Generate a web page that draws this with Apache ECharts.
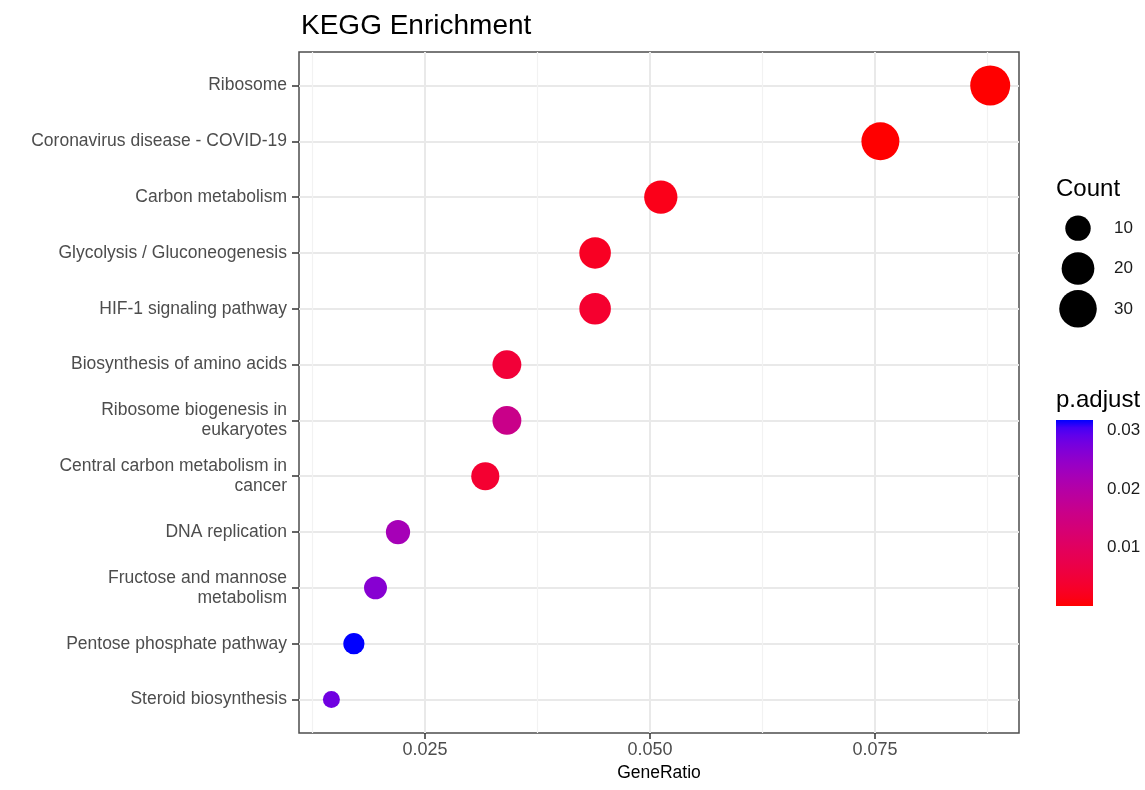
<!DOCTYPE html>
<html>
<head>
<meta charset="utf-8">
<script src="https://cdn.jsdelivr.net/npm/echarts@6/dist/echarts.min.js"></script>
<style>
  html, body { margin: 0; padding: 0; background: #ffffff; }
  #chart { width: 1145px; height: 790px; }
</style>
</head>
<body>
<div id="chart"></div>
<script>
// KEGG pathways, listed from top to bottom of the dot plot
const pathways = [
  'Ribosome',
  'Coronavirus disease - COVID-19',
  'Carbon metabolism',
  'Glycolysis / Gluconeogenesis',
  'HIF-1 signaling pathway',
  'Biosynthesis of amino acids',
  'Ribosome biogenesis in\neukaryotes',
  'Central carbon metabolism in\ncancer',
  'DNA replication',
  'Fructose and mannose\nmetabolism',
  'Pentose phosphate pathway',
  'Steroid biosynthesis'
];
const geneRatio = [0.0878, 0.0756, 0.0512, 0.0439, 0.0439, 0.0341, 0.0341, 0.0317, 0.0220, 0.0195, 0.0171, 0.0146];
const counts    = [36, 31, 21, 18, 18, 14, 14, 13, 9, 8, 7, 6];
const pAdjust   = [1e-10, 2e-5, 0.0015, 0.0025, 0.0038, 0.0048, 0.0160, 0.0040, 0.0223, 0.0260, 0.0318, 0.0280];

// axis breaks
const ratioTicks      = [0.025, 0.050, 0.075];
const ratioMinorTicks = [0.0125, 0.0375, 0.0625, 0.0875];
const countBreaks     = [10, 20, 30];
const pBreaks         = [0.01, 0.02, 0.03];

const FONT = '"Liberation Sans", Arial, Helvetica, sans-serif';

// ---- size scale: area-proportional mapping of Count to dot diameter ----
const cMin = Math.min(...counts), cMax = Math.max(...counts);
function dotSize(c) {
  const s = Math.max(0, (c - cMin) / (cMax - cMin));
  return 17 + 23 * Math.sqrt(s);
}

// ---- colour scale: red -> blue interpolated in CIE Lab ----
function toLin(c) { c /= 255; return c <= 0.04045 ? c / 12.92 : Math.pow((c + 0.055) / 1.055, 2.4); }
function toSrgb(c) {
  c = Math.max(0, Math.min(1, c));
  return Math.round(255 * (c <= 0.0031308 ? 12.92 * c : 1.055 * Math.pow(c, 1 / 2.4) - 0.055));
}
function rgbToLab(rgb) {
  const r = toLin(rgb[0]), g = toLin(rgb[1]), b = toLin(rgb[2]);
  const X = (0.4124 * r + 0.3576 * g + 0.1805 * b) / 0.95047;
  const Y = (0.2126 * r + 0.7152 * g + 0.0722 * b);
  const Z = (0.0193 * r + 0.1192 * g + 0.9505 * b) / 1.08883;
  const f = t => t > 0.008856 ? Math.cbrt(t) : 7.787 * t + 16 / 116;
  const fx = f(X), fy = f(Y), fz = f(Z);
  return [116 * fy - 16, 500 * (fx - fy), 200 * (fy - fz)];
}
function labToHex(lab) {
  const fy = (lab[0] + 16) / 116, fx = fy + lab[1] / 500, fz = fy - lab[2] / 200;
  const inv = t => t * t * t > 0.008856 ? t * t * t : (t - 16 / 116) / 7.787;
  const X = inv(fx) * 0.95047, Y = inv(fy), Z = inv(fz) * 1.08883;
  const r = 3.2406 * X - 1.5372 * Y - 0.4986 * Z;
  const g = -0.9689 * X + 1.8758 * Y + 0.0415 * Z;
  const b = 0.0557 * X - 0.2040 * Y + 1.0570 * Z;
  return '#' + [r, g, b].map(v => toSrgb(v).toString(16).padStart(2, '0')).join('');
}
const labLow = rgbToLab([255, 0, 0]), labHigh = rgbToLab([0, 0, 255]);
const palette = [];
for (let i = 0; i <= 24; i++) {
  const t = i / 24;
  palette.push(labToHex(labLow.map((v, k) => v + (labHigh[k] - v) * t)));
}

const pMax = Math.max(...pAdjust);
const rowIdx = pathways.map((_, i) => i);

const chart = echarts.init(document.getElementById('chart'), null, { renderer: 'canvas' });

const option = {
  animation: false,
  backgroundColor: '#ffffff',
  textStyle: { fontFamily: FONT },
  title: [
    { text: 'KEGG Enrichment', left: 301, top: 12, padding: 0,
      textStyle: { fontSize: 28, fontWeight: 'normal', color: '#000', fontFamily: FONT } },
    { text: 'Count', left: 1056, top: 177, padding: 0,
      textStyle: { fontSize: 24, fontWeight: 'normal', color: '#000', fontFamily: FONT } },
    { text: 'p.adjust', left: 1056, top: 388, padding: 0,
      textStyle: { fontSize: 24, fontWeight: 'normal', color: '#000', fontFamily: FONT } }
  ],
  grid: [
    { left: 299, top: 52, width: 720, height: 681, show: true,
      borderColor: '#4d4d4d', borderWidth: 1.5, backgroundColor: '#ffffff' },
    { left: 1058, top: 208, width: 40, height: 121 },
    { left: 1056, top: 420, width: 37, height: 186 }
  ],
  visualMap: {
    type: 'continuous', show: false, seriesIndex: 0, dimension: 3,
    min: 0, max: pMax, inRange: { color: palette }
  },
  xAxis: [
    { // minor gridlines
      gridIndex: 0, type: 'value', position: 'bottom', min: 0.011, max: 0.091,
      axisLine: { show: false }, axisLabel: { show: false },
      axisTick: { show: false, customValues: ratioMinorTicks },
      splitLine: { show: true, lineStyle: { color: '#f2f2f2', width: 1.2 } }
    },
    { // major axis
      gridIndex: 0, type: 'value', position: 'bottom', min: 0.011, max: 0.091,
      axisLine: { show: false },
      axisTick: { show: true, length: 6, customValues: ratioTicks, lineStyle: { color: '#333', width: 1.5 } },
      axisLabel: { customValues: ratioTicks, formatter: v => v.toFixed(3), margin: 8,
                   fontSize: 18, color: '#4d4d4d', fontFamily: FONT },
      splitLine: { show: true, lineStyle: { color: '#e9e9e9', width: 2 } },
      name: 'GeneRatio', nameLocation: 'middle', nameGap: 31,
      nameTextStyle: { fontSize: 17.5, color: '#000', fontFamily: FONT }
    },
    { gridIndex: 1, type: 'value', min: -1, max: 1, show: false },
    { gridIndex: 2, type: 'category', data: [''], show: false }
  ],
  yAxis: [
    {
      gridIndex: 0, type: 'value', inverse: true, min: -0.6, max: pathways.length - 1 + 0.6,
      axisLine: { show: false },
      axisTick: { show: true, length: 7, customValues: rowIdx, lineStyle: { color: '#333', width: 1.5 } },
      axisLabel: { customValues: rowIdx, formatter: v => pathways[Math.round(v)], margin: 12,
                   fontSize: 17.5, lineHeight: 20, color: '#4d4d4d', align: 'right', fontFamily: FONT },
      splitLine: { show: true, lineStyle: { color: '#e9e9e9', width: 2 } }
    },
    {
      gridIndex: 1, type: 'category', data: countBreaks.map(String), inverse: true, position: 'right',
      axisLine: { show: false }, axisTick: { show: false },
      axisLabel: { margin: 16, fontSize: 17, color: '#1a1a1a', fontFamily: FONT },
      splitLine: { show: false }
    },
    {
      gridIndex: 2, type: 'value', min: 0, max: pMax, position: 'right',
      axisLine: { show: false },
      axisTick: { show: true, inside: true, length: 7, customValues: pBreaks, lineStyle: { color: '#ffffff', width: 1.2 } },
      axisLabel: { customValues: pBreaks, formatter: v => v.toFixed(2), margin: 14,
                   fontSize: 17, color: '#1a1a1a', fontFamily: FONT },
      splitLine: { show: false }
    },
    {
      gridIndex: 2, type: 'value', min: 0, max: pMax, position: 'left',
      axisLine: { show: false }, axisLabel: { show: false },
      axisTick: { show: true, inside: true, length: 7, customValues: pBreaks, lineStyle: { color: '#ffffff', width: 1.2 } },
      splitLine: { show: false }
    }
  ],
  series: [
    {
      type: 'scatter', xAxisIndex: 1, yAxisIndex: 0,
      data: pathways.map((_, i) => [geneRatio[i], i, counts[i], pAdjust[i]]),
      symbolSize: d => dotSize(d[2]),
      itemStyle: { opacity: 1 },
      emphasis: { disabled: true }, z: 3
    },
    {
      type: 'scatter', xAxisIndex: 2, yAxisIndex: 1,
      data: countBreaks.map((c, i) => [0, i, c]),
      symbolSize: d => dotSize(d[2]),
      itemStyle: { color: '#000000', opacity: 1 },
      emphasis: { disabled: true }
    },
    {
      type: 'bar', xAxisIndex: 3, yAxisIndex: 2,
      data: [pMax], barWidth: '100%',
      itemStyle: {
        color: new echarts.graphic.LinearGradient(0, 1, 0, 0,
          palette.map((c, i) => ({ offset: i / (palette.length - 1), color: c })))
      },
      emphasis: { disabled: true }
    }
  ]
};

chart.setOption(option);
</script>
</body>
</html>
